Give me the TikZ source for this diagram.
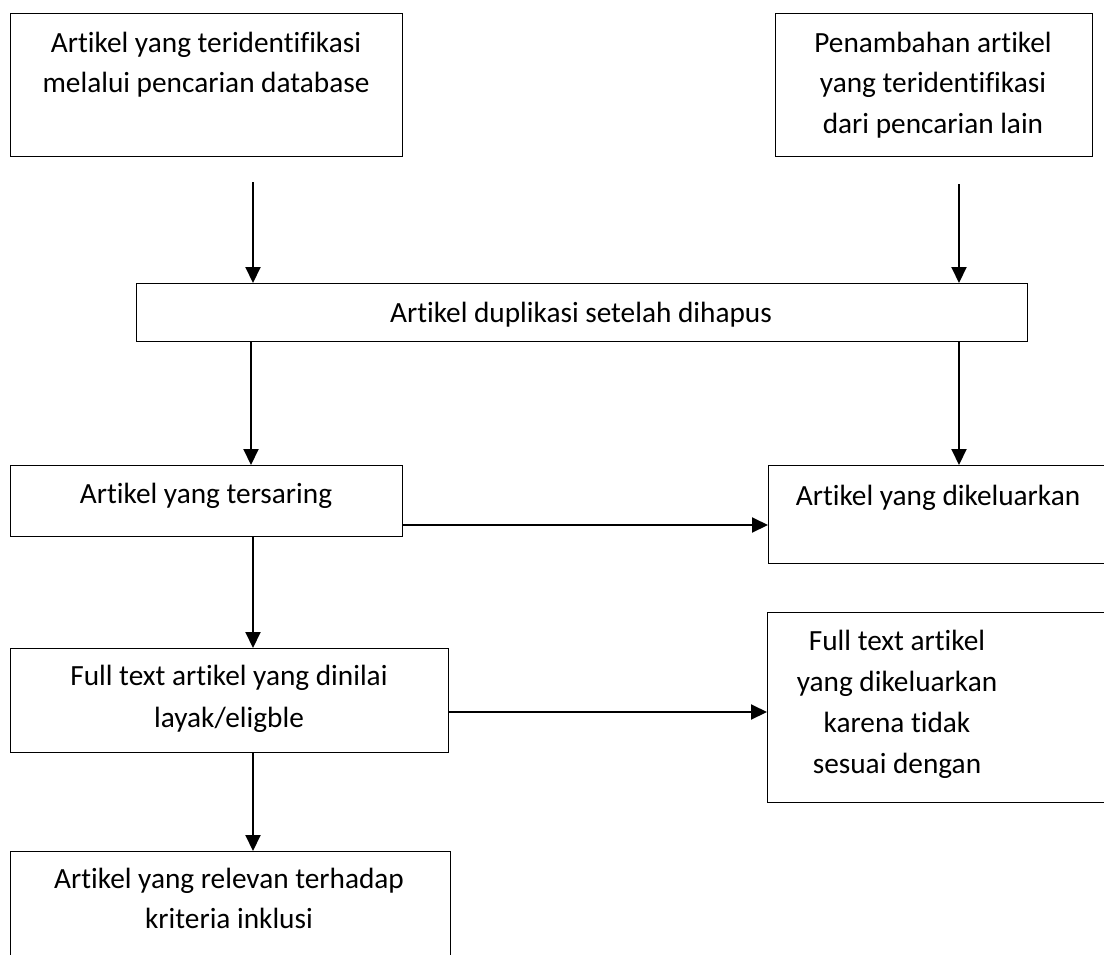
\documentclass[tikz,border=0pt]{standalone}
\usepackage{fontspec}
\setmainfont{Carlito}[Ligatures=NoCommon]
\usetikzlibrary{arrows.meta}
\begin{document}
\begin{tikzpicture}[x=1pt,y=-1pt,
  box/.style={draw,line width=1.3pt,inner sep=0pt,anchor=north west},
  txt/.style={align=center,anchor=base,inner sep=0pt,font=\fontsize{29.3}{41}\selectfont},
  arr/.style={line width=2pt,-{Triangle[length=16pt,width=15pt]}}]
\useasboundingbox (0,0) rectangle (1104,954);
% boxes
\node[box,minimum width=392pt,minimum height=143pt] (A) at (10,13) {};
\node[box,minimum width=317pt,minimum height=143pt] (B) at (775,13) {};
\node[box,minimum width=891pt,minimum height=58pt] (C) at (136,283) {};
\node[box,minimum width=392pt,minimum height=71pt] (D) at (10,465) {};
\node[box,minimum width=350pt,minimum height=98pt] (E) at (768,465) {};
\node[box,minimum width=438pt,minimum height=104pt] (F) at (10,648) {};
\node[box,minimum width=350pt,minimum height=190pt] (G) at (767,612) {};
\node[box,minimum width=440pt,minimum height=130pt] (H) at (10,851) {};
% texts (anchor = baseline of the last line)
\node[txt,font=\fontsize{29.3}{40}\selectfont] (tA) at (206,92) {Artikel yang teridentifikasi\\melalui pencarian database};
\node[txt,font=\fontsize{29.3}{40.5}\selectfont] (tB) at (933,133) {Penambahan artikel\\yang teridentifikasi\\dari pencarian lain};
\node[txt] (tC) at (581,322) {Artikel duplikasi setelah dihapus};
\node[txt] (tD) at (206,503) {Artikel yang tersaring};
\node[txt] (tE) at (938,505) {Artikel yang dikeluarkan};
\node[txt,font=\fontsize{29.3}{42}\selectfont] (tF) at (229,727) {Full text artikel yang dinilai\\layak/eligble};
\node[txt] (tG) at (897,773) {Full text artikel\\yang dikeluarkan\\karena tidak\\sesuai dengan};
\node[txt,font=\fontsize{29.3}{40}\selectfont] (tH) at (229,928) {Artikel yang relevan terhadap\\kriteria inklusi};
% connector helpers
\coordinate (sA) at (253,182);
\coordinate (sB) at (959,184);
\coordinate (xL) at (251,0);
\coordinate (xL2) at (253,0);
\coordinate (xR) at (959,0);
\coordinate (yDE) at (0,525);
\coordinate (yFG) at (0,712);
% connectors
\draw[arr] (sA) -- (sA |- C.north);
\draw[arr] (sB) -- (sB |- C.north);
\draw[arr] (C.south -| xL) -- (D.north -| xL);
\draw[arr] (C.south -| xR) -- (E.north -| xR);
\draw[arr] (D.east |- yDE) -- (E.west |- yDE);
\draw[arr] (D.south -| xL2) -- (F.north -| xL2);
\draw[arr] (F.east |- yFG) -- (G.west |- yFG);
\draw[arr] (F.south -| xL2) -- (H.north -| xL2);
\end{tikzpicture}
\end{document}
